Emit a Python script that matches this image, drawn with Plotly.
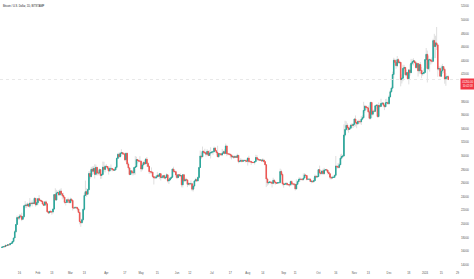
import pandas as pd
import plotly.graph_objects as go

# ---------------- data (BTC/USD daily) ----------------
start_date = "2023-01-01"
first_open = 16540

closes = [
    # Jan 2023
    16610,16680,16670,16850,16830,16950,16940,17120,17180,17440,17940,18850,19930,20950,20870,21170,21160,20690,21080,22680,22780,22710,22920,22620,23060,23010,23080,23030,23770,22830,23130,
    # Feb
    23730,23490,23430,23330,22940,22760,23250,22960,21800,21630,21860,21790,21770,22200,24330,23530,24570,24630,24280,24840,24450,24190,23950,23190,23160,23560,23490,23140,
    # Mar
    23650,23470,22360,22350,22430,22410,22200,21710,20360,20190,20630,22160,24200,24750,24380,25050,27420,26970,28040,27770,28170,27300,28330,27490,27490,27990,27140,27270,28350,28030,28480,
    # Apr
    28460,28200,27800,28170,28170,28040,27920,27950,28330,29650,30240,29890,30400,30490,30320,30320,29440,30400,28820,28250,27280,27820,27600,27520,28310,28420,29480,29340,29250,29230,
    # May
    28090,28680,29030,28850,29540,28900,28450,27690,27660,27630,26990,26810,26790,26930,27180,27030,27400,26830,26890,27110,26750,26850,27230,26330,26480,26720,26870,28080,27740,27700,27220,
    # Jun
    26820,27250,27080,27130,25760,27240,26350,26500,26480,25840,25940,25900,25920,25120,25580,26330,26510,26340,26840,28310,30000,29890,30690,30550,30470,30270,30690,30080,30450,30480,
    # Jul
    30590,30620,31160,30770,30510,29900,30350,30290,30170,30410,30620,30390,31470,30330,30300,30250,30140,29860,29910,29800,29910,29800,30090,29180,29230,29350,29220,29320,29350,29280,29230,
    # Aug
    29700,29190,29180,29080,29040,29040,29180,29770,29560,29430,29400,29420,29280,29410,29170,28700,26620,26050,26100,26190,26120,25990,26430,26160,26050,26000,26090,26100,27720,27290,25930,
    # Sep
    25800,25870,25970,25800,25780,25750,26240,25900,25890,25830,25160,25840,26230,26530,26600,26570,26530,26760,27210,27130,26570,26580,26580,26250,26300,26220,26370,27020,26910,26970,
    # Oct
    27990,27530,27430,27800,27420,27950,27970,27940,27600,27390,26880,26760,26860,26860,27160,28520,28420,28330,28720,29680,29920,30000,33080,33900,34500,34160,33910,34090,34540,34500,34660,
    # Nov
    35440,34940,34730,35080,35050,35040,35420,35630,36700,37310,37130,37070,36490,35550,37880,36150,36590,36570,37390,37460,35800,37420,37290,37720,37790,37480,37250,37830,37860,37710,
    # Dec
    38690,39460,39980,41980,44080,43770,43290,44170,43730,43790,41240,41450,42890,43020,41940,42260,41370,42660,42260,43650,43870,43990,43740,43010,43600,42520,43440,42580,42070,42140,42280,
    # Jan 2024
    44180,44950,42850,44150,44160,43970,43930,46970,46110,46630,46340,42780,42850,41730,42510,43150,42740,41260,41620,41660,41250,
]

highs = [
    16630,16760,16780,16990,16880,17040,16980,17180,17390,17490,17990,19100,19970,21250,21000,21460,21440,21650,21180,22740,23360,23060,23160,23030,23810,23260,23490,23170,23950,23790,23230,
    23760,24250,23690,23570,23430,23150,23370,23450,22990,21920,21910,22080,21890,22320,24380,25250,25020,24890,24980,25120,25260,24480,24600,23960,23220,23640,23880,23600,
    23880,23790,23480,22410,22610,22600,22550,22270,21820,20360,20820,22270,24570,26390,25270,25200,27760,27740,28390,28470,28500,28790,28740,28390,27790,28180,28040,27520,29180,29160,28640,
    28810,28510,28490,28440,28760,28180,28100,28160,28450,29780,30450,30510,30600,31000,30560,30560,30380,30470,30410,29090,28370,27870,27820,27980,28390,30000,29900,29580,29440,29970,
    29340,28900,29270,29380,29690,29850,29100,28650,27830,28320,27660,27050,27030,27200,27660,27290,27480,27470,27180,27150,27260,27060,27460,27230,26640,26920,26990,28170,28420,27990,27820,
    27350,27310,27320,27440,27140,27340,27360,26800,26790,26530,26190,26070,26400,26080,25750,26460,26780,26690,27000,28400,30800,30500,31390,30800,31060,30650,31000,30730,30830,31280,
    30660,30790,31380,31330,30890,31500,30440,30390,30450,31040,30800,30990,31820,31630,30410,30460,30340,30250,30190,30060,30150,29990,30350,30100,29340,29680,29570,29530,29420,29450,29530,
    29730,30040,29420,29300,29110,29160,29250,30180,30120,29720,29550,29460,29450,29670,29460,29230,28770,26820,26290,26270,26240,26130,26800,26550,26270,26090,26170,26220,28140,27990,27560,
    26110,25990,26100,26090,25890,25870,26420,26420,25960,25960,25890,26550,26390,26820,26890,26660,26620,27440,27490,27380,27150,26740,26650,26720,26420,26390,26820,27280,27210,27080,
    28060,28580,27660,27840,28120,28260,28050,28110,27990,27730,27460,26950,27100,26960,27270,30000,28590,28970,29010,30220,30330,30190,34650,35190,35100,34820,34270,34490,34740,34830,34700,
    35570,35970,34940,35270,35370,35280,35890,35980,37970,37520,37410,37230,37420,36760,37970,37950,36800,36850,37520,37640,37640,37870,37680,38420,37880,37840,37560,38380,38420,38160,
    38950,39690,40200,42400,44450,44300,44020,44700,44370,44030,43750,42000,43420,43400,43080,42700,42420,42750,43480,44280,44230,44370,43990,43940,43780,43560,43660,43820,43090,42610,42880,
    44200,45880,45500,44770,44340,44190,44490,47240,47960,47690,48970,46490,43250,43070,43300,43550,43190,42920,42160,41850,41860,
]

lows = [
    16500,16550,16600,16650,16750,16780,16910,16920,17110,17160,17320,17920,18720,19880,20560,20600,20910,20420,20660,20900,22340,22340,22520,22520,22350,22850,22580,22900,23000,22550,22730,
    22760,23380,23230,23270,22750,22650,22750,22680,21700,21460,21600,21630,21370,21550,22080,23510,23400,24450,24220,24190,24180,23630,23650,22990,22720,23090,23120,23060,
    23070,23190,21980,22200,22200,22300,21960,21600,19950,19590,20080,20390,21960,24100,23980,24250,24950,26640,26850,27200,27400,26680,27150,27130,27160,27410,26640,26670,27230,27700,27580,
    28260,27880,27260,27670,27850,27720,27800,27880,27850,28150,29640,29690,29860,29950,30240,30150,29280,29130,28620,27980,27160,27180,27370,27130,27210,27270,28380,28880,29080,29080,
    27680,27870,28130,28680,28820,28430,28370,27360,27390,27370,26730,25810,26700,26620,26880,26880,26600,26390,26670,26700,26700,26540,26830,26110,25880,26350,26570,26880,27520,27550,26850,
    26610,26800,26970,26960,25390,25370,26140,26280,26300,25420,25670,25630,25750,24830,24790,25160,26230,26270,26270,26640,28270,29570,29830,30300,30300,29940,30230,29950,30060,29630,
    30330,30170,30570,30640,30200,29850,29710,30060,30050,29980,30320,30230,30270,29980,30250,30070,29660,29500,29770,29560,29720,29740,29710,28920,29050,29100,29060,29140,29240,29050,29100,
    28590,28960,28970,28700,28950,28980,28740,29140,29380,29330,29350,29370,29240,29120,29060,28690,25430,25640,25780,25980,25840,25360,25830,25860,25780,25960,25990,25880,25920,27030,25670,
    25340,25760,25820,25600,25580,25420,25650,25660,25800,25590,24920,25170,25780,26140,26230,26460,26370,26390,26660,26840,26400,26520,26520,26200,25990,26090,26110,26330,26720,26900,
    26960,27350,27160,27240,27220,27210,27890,27730,27280,27340,26580,26540,26690,26810,26830,27100,28110,28160,28190,28640,29500,29680,29930,32870,33750,33730,33420,33880,34040,34090,34110,
    34310,34360,34080,34560,34700,34730,34560,35340,35560,36360,36740,36750,36340,35370,35370,35560,35950,36380,36470,36850,35650,35650,37040,37260,37580,37160,36750,37160,37610,37570,
    37530,38650,39280,39960,41410,43360,42820,43060,43600,43570,40240,40660,41000,42560,41710,41770,41260,40540,41830,42200,43340,43320,43590,42860,42800,41680,42110,42140,41440,41790,42000,
    42180,44180,40810,42630,42410,43450,43640,43910,44400,44400,45590,41640,42500,41700,41710,42090,42200,40630,40320,41460,41150,
]

tick_dates = ["2023-01-01","2023-01-16","2023-02-01","2023-02-13","2023-03-01","2023-03-13",
              "2023-04-01","2023-04-17","2023-05-01","2023-05-15","2023-06-01","2023-06-12",
              "2023-07-01","2023-07-17","2023-08-01","2023-08-14","2023-09-01","2023-09-11",
              "2023-10-01","2023-10-16","2023-11-01","2023-11-13","2023-12-01","2023-12-18",
              "2024-01-01","2024-01-15","2024-01-29"]
tick_labels = ["2023","16","Feb","13","Mar","13","Apr","17","May","15","Jun","12","Jul","17",
               "Aug","14","Sep","11","Oct","16","Nov","13","Dec","18","2024","15","29"]
price_ticks = list(range(14000, 52001, 2000))
title_text = "Bitcoin / U.S. Dollar, 1D, BITSTAMP"
countdown_text = "10:42:18"

# ---------------- build ----------------
n = len(closes)
assert len(highs) == n and len(lows) == n, (n, len(highs), len(lows))
dates = pd.date_range(start_date, periods=n, freq="D")
opens = [first_open] + closes[:-1]
highs = [max(h, o, c) for h, o, c in zip(highs, opens, closes)]
lows = [min(l, o, c) for l, o, c in zip(lows, opens, closes)]
body_hi = [max(o, c) for o, c in zip(opens, closes)]
body_lo = [min(o, c) for o, c in zip(opens, closes)]

UP = "#26a69a"
DN = "#ef5350"
WICK = "#c9c9c9"

fig = go.Figure()
fig.add_trace(go.Candlestick(
    x=dates, open=opens, high=highs, low=lows, close=closes,
    increasing=dict(line=dict(color=WICK, width=0.6), fillcolor=WICK),
    decreasing=dict(line=dict(color=WICK, width=0.6), fillcolor=WICK),
    whiskerwidth=0, hoverinfo="skip", showlegend=False))
fig.add_trace(go.Candlestick(
    x=dates, open=opens, high=body_hi, low=body_lo, close=closes,
    increasing=dict(line=dict(color=UP, width=0.9), fillcolor=UP),
    decreasing=dict(line=dict(color=DN, width=0.9), fillcolor=DN),
    whiskerwidth=0, hoverinfo="skip", showlegend=False))

last = closes[-1]
x0 = pd.Timestamp(start_date) - pd.Timedelta(hours=41.5)
x1 = x0 + pd.Timedelta(days=396.9)

# the price label hides the axis tick it sits on
shown_ticks = [v for v in price_ticks if not (last - 1500 < v < last + 0)]
shown_ticks = [v for v in shown_ticks if abs(v - last) > 1300 or v > last]
shown_ticks = [v for v in price_ticks if not (last - 1600 <= v <= last)]

fig.add_shape(type="line", xref="paper", x0=0, x1=1, yref="y", y0=last, y1=last,
              line=dict(color="#e2e2e2", width=0.8, dash="dot"))

fig.add_annotation(xref="paper", x=1, xanchor="left", yref="y", y=last, yanchor="top",
                   yshift=2, text=f"{last:.2f}<br>{countdown_text}", showarrow=False,
                   font=dict(size=2.6, color="white", family="Liberation Sans"),
                   bgcolor="#f23645", width=14, height=10, borderpad=0, align="center")

fig.add_annotation(xref="paper", x=0, xanchor="left", xshift=1, yref="paper", y=1,
                   yanchor="top", yshift=-2, text=title_text, showarrow=False,
                   font=dict(size=2.6, color="#131722", family="Liberation Sans"))

fig.update_layout(
    width=474, height=279,
    margin=dict(l=0, r=14, t=0, b=9),
    paper_bgcolor="white", plot_bgcolor="white",
    showlegend=False, hovermode=False,
    xaxis=dict(type="date", range=[x0, x1], rangeslider=dict(visible=False),
               tickvals=tick_dates, ticktext=tick_labels, showgrid=False,
               zeroline=False, showline=False, ticks="",
               tickfont=dict(size=2.8, color="#555555", family="Liberation Sans")),
    yaxis=dict(side="right", range=[13235, 52941], tickvals=shown_ticks,
               ticktext=[str(v) for v in shown_ticks], showgrid=False,
               zeroline=False, showline=False, ticks="",
               tickfont=dict(size=2.8, color="#555555", family="Liberation Sans")),
)

fig.write_html("out.html")
